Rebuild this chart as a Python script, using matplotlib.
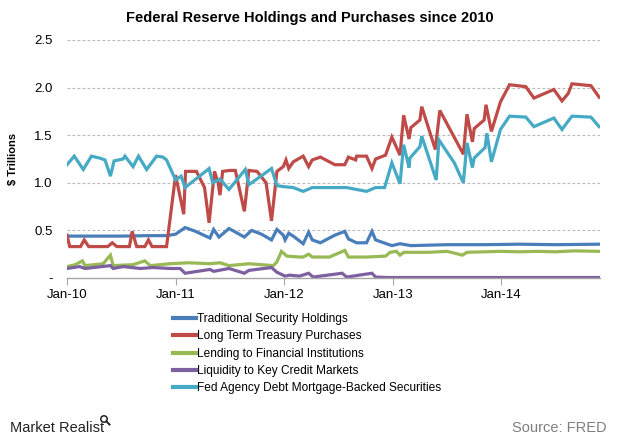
import matplotlib
matplotlib.use("Agg")
import matplotlib.pyplot as plt
from matplotlib.patches import Ellipse
from matplotlib.lines import Line2D

plt.rcParams['font.family'] = ['Liberation Sans', 'DejaVu Sans']

# months since Jan 2010
blue_m = [0, 3, 6, 9, 11, 12, 13.05, 14.2, 15.8, 16.2, 16.8, 17.9, 19.6, 20.4, 21.5, 22.6, 23.2, 23.9, 24.1, 24.5,
          25.0, 26.1, 26.7, 27.1, 28.0, 29.6, 30.7, 31.1, 32.0, 33.1, 33.7, 34.1, 35.9, 36.8, 38.0, 42, 46, 50, 54, 58.8]
blue_v = [0.44, 0.44, 0.44, 0.445, 0.445, 0.46, 0.53, 0.49, 0.42, 0.51, 0.43, 0.52, 0.43, 0.50, 0.46, 0.40, 0.51, 0.45, 0.40, 0.47,
          0.44, 0.36, 0.48, 0.40, 0.37, 0.45, 0.49, 0.41, 0.37, 0.37, 0.49, 0.40, 0.34, 0.36, 0.34, 0.35, 0.35, 0.355, 0.35, 0.355]

red_m = [0, 0.3, 1.5, 1.9, 2.4, 4.5, 5.0, 5.5, 6.9, 7.2, 7.7, 8.6, 9.0, 9.4, 11.0, 12.0, 12.9, 13.1, 14.3, 15.2,
         15.7, 16.3, 16.7, 16.9, 17.2, 18.0, 18.6, 19.6, 20.1, 21.0, 22.0, 22.6, 23.2, 23.9, 24.2, 24.5, 25.0, 26.1, 26.7, 27.1,
         28.0, 29.6, 30.7, 31.1, 31.9, 32.0, 33.1, 33.7, 34.1, 35.2, 35.9, 36.8, 37.2, 37.8, 38.0, 39.0, 39.2, 40.7, 41.2, 43.8,
         44.2, 44.8, 45.0, 46.1, 46.3, 46.9, 47.9, 48.9, 50.7, 51.6, 53.8, 54.7, 55.4, 55.8, 57.9, 58.8]
red_v = [0.45, 0.33, 0.33, 0.40, 0.33, 0.33, 0.37, 0.33, 0.33, 0.49, 0.33, 0.33, 0.40, 0.33, 0.33, 1.08, 0.67, 1.12, 1.12, 0.95,
         0.58, 1.12, 1.0, 0.87, 1.12, 1.13, 1.13, 0.70, 1.13, 1.12, 1.0, 0.60, 1.12, 1.17, 1.24, 1.15, 1.22, 1.28, 1.17, 1.24,
         1.27, 1.19, 1.19, 1.27, 1.24, 1.28, 1.28, 1.15, 1.25, 1.29, 1.48, 1.29, 1.71, 1.46, 1.58, 1.66, 1.80, 1.35, 1.76, 1.30,
         1.72, 1.43, 1.57, 1.66, 1.82, 1.54, 1.85, 2.03, 2.01, 1.89, 1.98, 1.86, 1.94, 2.04, 2.02, 1.90]

green_m = [0, 0.9, 1.7, 2.0, 4.0, 4.8, 5.1, 7.3, 8.6, 9.2, 11.4, 13.4, 15.8, 16.9, 17.9, 20.1, 22.8, 23.2, 23.7, 24.3,
           25.7, 26.1, 26.7, 27.1, 29.0, 30.7, 31.1, 33.1, 35.2, 35.7, 36.4, 36.8, 37.2, 40.0, 42.0, 43.7, 44.2, 48.0, 50.0, 52.0,
           54.0, 56.0, 58.8]
green_v = [0.12, 0.14, 0.18, 0.13, 0.15, 0.24, 0.13, 0.14, 0.18, 0.13, 0.15, 0.16, 0.15, 0.16, 0.13, 0.15, 0.13, 0.17, 0.28, 0.23,
           0.22, 0.22, 0.25, 0.22, 0.22, 0.29, 0.22, 0.22, 0.23, 0.27, 0.28, 0.24, 0.27, 0.27, 0.28, 0.24, 0.27, 0.28, 0.275, 0.28,
           0.275, 0.285, 0.28]

purple_m = [0, 1.4, 2.0, 4.8, 5.1, 6.2, 8.1, 9.5, 11.4, 12.5, 13.05, 15.8, 16.2, 17.9, 19.6, 20.1, 22.6, 23.2, 24.1, 24.6,
            25.7, 26.7, 27.2, 30.4, 30.9, 33.7, 34.1, 35.5, 58.8]
purple_v = [0.10, 0.12, 0.10, 0.13, 0.10, 0.12, 0.10, 0.11, 0.10, 0.10, 0.05, 0.09, 0.07, 0.10, 0.05, 0.08, 0.11, 0.06, 0.02, 0.03,
            0.02, 0.05, 0.01, 0.05, 0.01, 0.05, 0.01, 0.005, 0.005]

cyan_m = [0, 0.8, 1.8, 2.7, 3.6, 4.2, 4.8, 5.2, 6.2, 6.4, 7.3, 7.9, 8.8, 9.9, 10.6, 11.0, 12.0, 12.6, 13.05, 15.7,
          16.1, 16.9, 17.9, 19.7, 20.1, 22.6, 23.2, 23.9, 25.0, 26.1, 27.1, 28.0, 29.4, 30.9, 33.1, 34.1, 35.1, 35.9, 36.8, 37.2,
          37.8, 37.9, 39.0, 39.2, 40.8, 41.1, 42.8, 43.8, 44.2, 44.8, 45.0, 46.2, 46.4, 46.9, 47.9, 48.9, 50.7, 51.6, 53.8, 54.7,
          55.4, 55.8, 57.9, 58.8]
cyan_v = [1.19, 1.28, 1.14, 1.28, 1.26, 1.24, 1.07, 1.23, 1.25, 1.28, 1.17, 1.28, 1.14, 1.28, 1.27, 1.24, 1.03, 1.07, 0.95, 1.15,
          1.00, 1.04, 0.93, 1.14, 0.98, 1.15, 0.97, 0.96, 0.95, 0.91, 0.95, 0.95, 0.95, 0.95, 0.91, 0.95, 0.95, 1.21, 0.99, 1.40,
          1.16, 1.26, 1.38, 1.49, 1.03, 1.45, 1.21, 1.0, 1.42, 1.16, 1.26, 1.37, 1.52, 1.22, 1.56, 1.70, 1.69, 1.59, 1.68, 1.56,
          1.65, 1.70, 1.69, 1.59]

series_names = ["Traditional Security Holdings", "Long Term Treasury Purchases", "Lending to Financial Institutions",
                "Liquidity to Key Credit Markets", "Fed Agency Debt Mortgage-Backed Securities"]
series_colors = ["#4a7ebb", "#be4b48", "#98b954", "#7d60a0", "#46aac5"]

x_ticks = [0, 12, 24, 36, 48]
x_labels = ["Jan-10", "Jan-11", "Jan-12", "Jan-13", "Jan-14"]
y_ticks = [0, 0.5, 1.0, 1.5, 2.0, 2.5]
y_labels = ["-", "0.5", "1.0", "1.5", "2.0", "2.5"]

W, H = 620, 442
fig = plt.figure(figsize=(6.2, 4.42), dpi=100)
ax = fig.add_axes([67/W, 1 - 278/H, 533/W, 238/H])

data = [(blue_m, blue_v), (red_m, red_v), (green_m, green_v), (purple_m, purple_v), (cyan_m, cyan_v)]
for (m, v), name, c in zip(data, series_names, series_colors):
    ax.plot(m, v, color=c, lw=2.3, label=name, solid_joinstyle='miter')

ax.set_xlim(0, 58.9)
ax.set_ylim(0, 2.5)
ax.set_yticks(y_ticks)
ax.set_yticklabels(y_labels, fontsize=9.5)
ax.set_xticks(x_ticks)
ax.set_xticklabels(x_labels, fontsize=9.5)
for yv in y_ticks[1:]:
    ax.axhline(yv, color="#b8b8b8", lw=0.8, ls=(0, (2.5, 2)), zorder=0)
for s in ["top", "right", "left"]:
    ax.spines[s].set_visible(False)
ax.spines["bottom"].set_color("#a6a6a6")
ax.spines["bottom"].set_linewidth(1.0)
ax.tick_params(axis="y", length=0, pad=10.5)
ax.tick_params(axis="x", length=5, color="#a6a6a6", pad=3)
ax.set_ylabel("$ Trillions", fontsize=8, fontweight="bold")
ax.yaxis.set_label_coords(18/W, 1 - 159/H, transform=fig.transFigure)

fig.text(0.5, 1 - 18/H, "Federal Reserve Holdings and Purchases since 2010", ha="center", va="center",
         fontsize=10.5, fontweight="bold")

leg = ax.legend(loc="upper left", bbox_to_anchor=(173/W, 1 - 313/H), bbox_transform=fig.transFigure,
                frameon=False, fontsize=8.6, handlelength=1.9, handletextpad=0.15, labelspacing=0.45,
                borderaxespad=0, borderpad=0)
for h in leg.get_lines():
    h.set_linewidth(3)

fig.text(10/W, 1 - 428/H, "Market Realist", ha="left", va="center", fontsize=10.5, color="#222222")
# small magnifier icon
cx, cy, r = 104, 419, 3.2
fig.add_artist(Ellipse((cx/W, 1 - cy/H), 2*r/W, 2*r/H, transform=fig.transFigure,
                       fill=False, edgecolor="#222222", lw=1.1))
fig.add_artist(Line2D([(cx + 2.3)/W, (cx + 5.5)/W], [1 - (cy + 2.3)/H, 1 - (cy + 5.5)/H],
                      transform=fig.transFigure, color="#222222", lw=1.4))
fig.text(607/W, 1 - 428/H, "Source: FRED", ha="right", va="center", fontsize=10.5, color="#7f7f7f")

fig.savefig("out.png", dpi=100)
